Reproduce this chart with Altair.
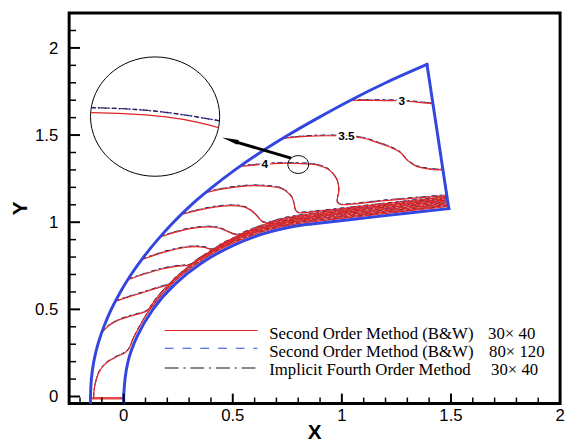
import altair as alt
import pandas as pd

# ---------------- data ----------------
# outer boundary (shock)
shock_x = [-0.152, -0.152, -0.148, -0.137, -0.118, -0.091, -0.057, -0.015, 0.034, 0.091, 0.156, 0.228,
           0.310, 0.405, 0.510, 0.626, 0.754, 0.893, 1.040, 1.201, 1.390]
shock_y = [-0.040, 0.000, 0.100, 0.200, 0.300, 0.400, 0.500, 0.600, 0.700, 0.800, 0.900, 1.000,
           1.100, 1.200, 1.300, 1.400, 1.500, 1.600, 1.700, 1.800, 1.905]
# inner boundary (body)
body_x = [0.001, 0.000, 0.019, 0.060, 0.134, 0.234, 0.357, 0.500, 0.658, 0.826, 0.861, 1.158, 1.490]
body_y = [-0.040, 0.000, 0.195, 0.340, 0.500, 0.643, 0.766, 0.866, 0.940, 0.985, 0.990, 1.032, 1.078]
# outflow boundary
out_x = [1.490, 1.390]
out_y = [1.078, 1.905]

# contour lines
c1_x = [-0.138, -0.136, -0.129, -0.113, -0.082, -0.037, 0.004, 0.022, 0.030, 0.049, 0.124, 0.225, 0.350,
        0.494, 0.654, 0.824, 0.859, 1.156, 1.488]
c1_y = [-0.010, 0.030, 0.080, 0.140, 0.190, 0.225, 0.250, 0.270, 0.290, 0.346, 0.506, 0.651, 0.775,
        0.876, 0.951, 0.997, 1.002, 1.044, 1.090]
c2_x = [-0.100, -0.070, -0.020, 0.042, 0.100, 0.115, 0.125, 0.164, 0.219, 0.344, 0.490, 0.651, 0.823,
        0.858, 1.155, 1.487]
c2_y = [0.367, 0.405, 0.440, 0.465, 0.487, 0.500, 0.520, 0.585, 0.656, 0.781, 0.883, 0.959, 1.005,
        1.010, 1.052, 1.098]
c3_x = [-0.040, 0.020, 0.090, 0.160, 0.205, 0.222, 0.229, 0.277, 0.342, 0.487, 0.648, 0.822, 0.857,
        1.154, 1.486]
c3_y = [0.545, 0.570, 0.597, 0.625, 0.642, 0.652, 0.670, 0.723, 0.784, 0.889, 0.966, 1.012, 1.018,
        1.060, 1.106]
c4_x = [0.020, 0.100, 0.170, 0.240, 0.290, 0.310, 0.326, 0.410, 0.485, 0.647, 0.820, 0.856, 1.153, 1.485]
c4_y = [0.670, 0.704, 0.730, 0.747, 0.752, 0.758, 0.775, 0.842, 0.892, 0.971, 1.019, 1.026, 1.068, 1.114]
c5_x = [0.083, 0.190, 0.280, 0.330, 0.370, 0.400, 0.420, 0.440, 0.562, 0.644, 0.819, 0.855, 1.152, 1.484]
c5_y = [0.785, 0.830, 0.855, 0.860, 0.855, 0.845, 0.848, 0.868, 0.940, 0.977, 1.026, 1.033, 1.076, 1.122]
c6_x = [0.166, 0.230, 0.300, 0.386, 0.430, 0.465, 0.500, 0.528, 0.550, 0.642, 0.729, 0.818, 0.854,
        1.151, 1.483]
c6_y = [0.915, 0.940, 0.962, 0.973, 0.968, 0.953, 0.933, 0.928, 0.940, 0.984, 1.012, 1.033, 1.040,
        1.084, 1.130]
c7_x = [0.265, 0.340, 0.415, 0.490, 0.535, 0.570, 0.600, 0.622, 0.638, 0.660, 0.727, 0.817, 0.853,
        1.150, 1.482]
c7_y = [1.045, 1.068, 1.087, 1.095, 1.092, 1.078, 1.050, 1.020, 1.000, 0.997, 1.020, 1.040, 1.047,
        1.091, 1.137]
c8_x = [0.377, 0.450, 0.520, 0.600, 0.670, 0.720, 0.752, 0.772, 0.782, 0.787, 0.800, 0.851, 1.149, 1.481]
c8_y = [1.170, 1.190, 1.203, 1.210, 1.205, 1.195, 1.170, 1.140, 1.100, 1.070, 1.055, 1.058, 1.099, 1.145]
c9_x = [0.533, 0.600, 0.647, 0.720, 0.800, 0.860, 0.905, 0.935, 0.962, 0.980, 0.986, 0.980, 0.979,
        0.990, 1.010, 1.200, 1.479]
c9_y = [1.320, 1.328, 1.333, 1.338, 1.337, 1.333, 1.322, 1.305, 1.275, 1.235, 1.180, 1.140, 1.115,
        1.103, 1.100, 1.124, 1.153]
c10_x = [0.728, 0.834, 0.930, 1.021, 1.100, 1.160, 1.223, 1.268, 1.300, 1.340, 1.400, 1.462]
c10_y = [1.480, 1.492, 1.496, 1.494, 1.482, 1.458, 1.430, 1.400, 1.355, 1.322, 1.305, 1.300]
c11_x = [1.040, 1.120, 1.200, 1.275, 1.350, 1.417]
c11_y = [1.700, 1.699, 1.698, 1.697, 1.688, 1.680]
sym_x = [-0.145, -0.002]
sym_y = [-0.010, -0.010]

# contour labels
lab_text = ["3", "3.5", "4"]
lab_x = [1.275, 1.021, 0.647]
lab_y = [1.697, 1.494, 1.333]

# zoom annotation
big_circle_x = [0.144]
big_circle_y = [1.606]
small_circle_x = [0.800]
small_circle_y = [1.331]
arrow_x = [0.767, 0.509]
arrow_y = [1.368, 1.462]
head_x = [0.4876]
head_y = [1.4717]
inset_red_x = [-0.149, -0.001, 0.194, 0.345, 0.436]
inset_red_y = [1.629, 1.623, 1.604, 1.572, 1.542]
inset_fine_x = [-0.149, 0.044, 0.239, 0.438]
inset_fine_y = [1.657, 1.648, 1.623, 1.582]

# axes
x_major = [0, 0.5, 1, 1.5, 2]
x_labels = ["0", "0.5", "1", "1.5", "2"]
x_minor = [-0.2, -0.1, 0.1, 0.2, 0.3, 0.4, 0.6, 0.7, 0.8, 0.9, 1.1, 1.2, 1.3, 1.4, 1.6, 1.7, 1.8, 1.9]
y_major = [0, 0.5, 1, 1.5, 2]
y_labels = ["0", "0.5", "1", "1.5", "2"]
y_minor = [0.1, 0.2, 0.3, 0.4, 0.6, 0.7, 0.8, 0.9, 1.1, 1.2, 1.3, 1.4, 1.6, 1.7, 1.8, 1.9, 2.1]
x_title = "X"
y_title = "Y"

# legend
legend_names = ["Second Order Method (B&W)", "Second Order Method (B&W)", "Implicit Fourth Order Method"]
legend_grids = ["30\u00d7 40", "80\u00d7 120", "30\u00d7 40"]

# ---------------- chart ----------------
RED = "#e02626"
BLUE = "#3346e0"
DARK = "#151515"
W, H = 498, 396
SANS = "Liberation Sans"

xscale = alt.Scale(domain=[-0.25, 2.0], nice=False, zero=False)
yscale = alt.Scale(domain=[-0.04, 2.2], nice=False, zero=False)


def X():
    return alt.X("x:Q", scale=xscale, axis=None)


def Y():
    return alt.Y("y:Q", scale=yscale, axis=None)


def line_df(xs, ys, key=0):
    return pd.DataFrame({"x": xs, "y": ys, "i": list(range(len(xs))), "id": key})


contour_lists = [(c1_x, c1_y), (c2_x, c2_y), (c3_x, c3_y), (c4_x, c4_y), (c5_x, c5_y), (c6_x, c6_y),
                 (c7_x, c7_y), (c8_x, c8_y), (c9_x, c9_y), (c10_x, c10_y), (c11_x, c11_y)]
cont = pd.concat([line_df(xs, ys, k) for k, (xs, ys) in enumerate(contour_lists)], ignore_index=True)


def contour_layer(df, **mk):
    return alt.Chart(df).mark_line(interpolate="catmull-rom", clip=True, **mk).encode(
        x=X(), y=Y(), detail="id:N", order="i:Q")


layers = []
# contours: fine-grid styles underneath (slightly offset), coarse-grid red on top
layers.append(contour_layer(cont, color=BLUE, strokeWidth=0.9, strokeDash=[4, 4], yOffset=-0.8))
layers.append(contour_layer(cont, color=DARK, strokeWidth=0.9, strokeDash=[5, 3, 1.5, 3], yOffset=-0.6))
layers.append(contour_layer(cont, color=RED, strokeWidth=1.2))
layers.append(alt.Chart(line_df(sym_x, sym_y)).mark_line(color=RED, strokeWidth=2.5, opacity=0.85, clip=True)
              .encode(x=X(), y=Y(), order="i:Q"))

# boundaries
for xs, ys, interp in [(body_x, body_y, "catmull-rom"), (shock_x, shock_y, "catmull-rom"),
                       (out_x, out_y, "linear")]:
    layers.append(alt.Chart(line_df(xs, ys)).mark_line(color=BLUE, strokeWidth=3, interpolate=interp,
                                                        strokeCap="square", clip=True)
                  .encode(x=X(), y=Y(), order="i:Q"))

# inward ticks
layers.append(alt.Chart(pd.DataFrame({"x": x_major})).mark_rule(color="black", strokeWidth=2)
              .encode(x=X(), y=alt.value(H), y2=alt.value(H - 10)))
layers.append(alt.Chart(pd.DataFrame({"x": x_minor})).mark_rule(color="black", strokeWidth=1.5)
              .encode(x=X(), y=alt.value(H), y2=alt.value(H - 6)))
layers.append(alt.Chart(pd.DataFrame({"y": y_major})).mark_rule(color="black", strokeWidth=2)
              .encode(y=Y(), x=alt.value(0), x2=alt.value(11)))
layers.append(alt.Chart(pd.DataFrame({"y": y_minor})).mark_rule(color="black", strokeWidth=1.5)
              .encode(y=Y(), x=alt.value(0), x2=alt.value(7)))

# tick labels and axis titles
layers.append(alt.Chart(pd.DataFrame({"x": x_major, "t": x_labels})).mark_text(
    font=SANS, fontSize=17, align="center", baseline="alphabetic", color="black")
    .encode(x=X(), y=alt.value(H + 18), text="t:N"))
layers.append(alt.Chart(pd.DataFrame({"y": y_major, "t": y_labels})).mark_text(
    font=SANS, fontSize=17, align="right", baseline="alphabetic", dy=6, color="black")
    .encode(y=Y(), x=alt.value(-11), text="t:N"))
layers.append(alt.Chart(pd.DataFrame({"t": [x_title]})).mark_text(
    font=SANS, fontSize=21, fontWeight="bold", align="center", baseline="alphabetic", color="black")
    .encode(x=alt.value(W / 2), y=alt.value(H + 36), text="t:N"))
layers.append(alt.Chart(pd.DataFrame({"t": [y_title]})).mark_text(
    font=SANS, fontSize=21, fontWeight="bold", align="center", baseline="alphabetic", angle=270,
    color="black").encode(x=alt.value(-43), y=alt.value(H / 2), text="t:N"))

# contour labels with white halo
labs = pd.DataFrame({"x": lab_x, "y": lab_y, "t": lab_text})
layers.append(alt.Chart(labs).mark_text(font=SANS, fontSize=12, fontWeight="bold",
                                        color="white", stroke="white", strokeWidth=4)
              .encode(x=X(), y=Y(), text="t:N"))
layers.append(alt.Chart(labs).mark_text(font=SANS, fontSize=12, fontWeight="bold", color="black")
              .encode(x=X(), y=Y(), text="t:N"))

# zoom annotation
layers.append(alt.Chart(line_df(arrow_x, arrow_y)).mark_line(color="black", strokeWidth=3)
              .encode(x=X(), y=Y(), order="i:Q"))
layers.append(alt.Chart(pd.DataFrame({"x": head_x, "y": head_y})).mark_point(
    shape="M 0 -1 L 0.3 1 L -0.3 1 Z", size=289, filled=True, color="black", opacity=1, angle=286.5)
    .encode(x=X(), y=Y()))
layers.append(alt.Chart(pd.DataFrame({"x": small_circle_x, "y": small_circle_y})).mark_point(
    shape="M -1 0 A 1 0.86 0 1 0 1 0 A 1 0.86 0 1 0 -1 0", size=441, filled=False, color="black",
    opacity=1, strokeWidth=1).encode(x=X(), y=Y()))
layers.append(alt.Chart(pd.DataFrame({"x": big_circle_x, "y": big_circle_y})).mark_point(
    shape="M -1 0 A 1 0.924 0 1 0 1 0 A 1 0.924 0 1 0 -1 0", size=17161, filled=False, color="black",
    opacity=1, strokeWidth=1).encode(x=X(), y=Y()))
layers.append(alt.Chart(line_df(inset_red_x, inset_red_y)).mark_line(color=RED, strokeWidth=1.3,
                                                                       interpolate="catmull-rom")
              .encode(x=X(), y=Y(), order="i:Q"))
layers.append(alt.Chart(line_df(inset_fine_x, inset_fine_y)).mark_line(color=BLUE, strokeWidth=1.3,
                                                                         strokeDash=[4, 3],
                                                                         interpolate="catmull-rom")
              .encode(x=X(), y=Y(), order="i:Q"))
layers.append(alt.Chart(line_df(inset_fine_x, inset_fine_y)).mark_line(color="#3a1a3a", strokeWidth=1.3,
                                                                         strokeDash=[5, 2, 1.5, 2],
                                                                         interpolate="catmull-rom")
              .encode(x=X(), y=Y(), order="i:Q"))

# legend
one = pd.DataFrame({"a": [0]})
leg_line_y = [322, 340, 360]
leg_text_y = [331, 349, 367]
leg_grid_x = [425, 426, 428]
leg_styles = [dict(color=RED, strokeWidth=1.2), dict(color=BLUE, strokeWidth=1.2, strokeDash=[9, 9]),
              dict(color=DARK, strokeWidth=1.2, strokeDash=[14, 5, 2, 5])]
for k in range(3):
    layers.append(alt.Chart(one).mark_rule(**leg_styles[k]).encode(
        x=alt.value(97), x2=alt.value(191), y=alt.value(leg_line_y[k])))
    layers.append(alt.Chart(pd.DataFrame({"t": [legend_names[k]]})).mark_text(
        font="Liberation Serif", fontSize=17, align="left", baseline="alphabetic", color="black")
        .encode(x=alt.value(203), y=alt.value(leg_text_y[k]), text="t:N"))
    layers.append(alt.Chart(pd.DataFrame({"t": [legend_grids[k]]})).mark_text(
        font="Liberation Serif", fontSize=17, align="left", baseline="alphabetic", color="black")
        .encode(x=alt.value(leg_grid_x[k]), y=alt.value(leg_text_y[k]), text="t:N"))

chart = alt.layer(*layers).properties(
    width=W, height=H,
    autosize=alt.AutoSizeParams(type="none"),
    padding={"left": 62, "top": 2, "right": 6, "bottom": 40},
    background="white",
).configure_view(stroke="black", strokeWidth=3)

chart.save("out.html", embed_options={"renderer": "svg", "actions": False})
